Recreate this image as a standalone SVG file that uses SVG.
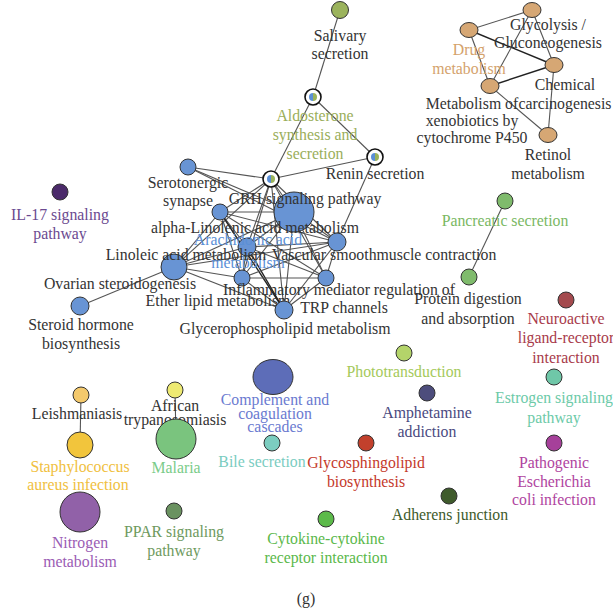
<svg xmlns="http://www.w3.org/2000/svg" width="613" height="614" viewBox="0 0 613 614">
<style>
text{font-family:"Liberation Serif","DejaVu Serif",serif;font-size:15.8px;text-anchor:middle;fill:#333}
.n{stroke:#333;stroke-width:1}
.e line{stroke:#555;stroke-width:1.1}
.e line.d{stroke:#222;stroke-width:1.4}
.blue{fill:#6894d4}
.tan{fill:#d6a774}
.ring{fill:#fff;stroke:#111;stroke-width:1.6}
</style>
<defs>
<g id="pie">
<circle r="8" class="ring"/>
<path d="M0,-4 A4,4 0 0 0 0,4 Z" fill="#5b8fd6"/>
<path d="M0,-4 A4,4 0 0 1 0,4 Z" fill="#9bb35c"/>
</g>
</defs>
<rect width="613" height="614" fill="#fff"/>
<g class="e" id="connectors">
<line x1="340" y1="10" x2="313" y2="97"/>
<line x1="313" y1="97" x2="271" y2="179"/>
<line x1="313" y1="97" x2="375" y2="157"/>
<line x1="375" y1="157" x2="271" y2="179"/>
<line x1="375" y1="157" x2="337" y2="242"/>
<line x1="271" y1="179" x2="188" y2="167"/>
<line x1="271" y1="179" x2="220" y2="212"/>
<line x1="271" y1="179" x2="294" y2="212"/>
<line x1="271" y1="179" x2="247" y2="247"/>
<line x1="271" y1="179" x2="242" y2="278"/>
<line x1="271" y1="179" x2="284" y2="310"/>
<line x1="271" y1="179" x2="326" y2="278"/>
<line x1="271" y1="179" x2="337" y2="242"/>
<line x1="271" y1="179" x2="174" y2="267"/>
<line x1="188" y1="167" x2="294" y2="212"/>
<line x1="188" y1="167" x2="337" y2="242"/>
<line x1="220" y1="212" x2="294" y2="212"/>
<line x1="220" y1="212" x2="247" y2="247"/>
<line x1="220" y1="212" x2="242" y2="278"/>
<line class="d" x1="220" y1="212" x2="284" y2="310"/>
<line x1="220" y1="212" x2="337" y2="242"/>
<line x1="220" y1="212" x2="326" y2="278"/>
<line x1="220" y1="212" x2="174" y2="267"/>
<line x1="294" y1="212" x2="247" y2="247"/>
<line x1="294" y1="212" x2="337" y2="242"/>
<line x1="294" y1="212" x2="326" y2="278"/>
<line x1="294" y1="212" x2="284" y2="310"/>
<line x1="294" y1="212" x2="242" y2="278"/>
<line x1="294" y1="212" x2="174" y2="267"/>
<line x1="247" y1="247" x2="337" y2="242"/>
<line x1="247" y1="247" x2="242" y2="278"/>
<line class="d" x1="247" y1="247" x2="284" y2="310"/>
<line x1="247" y1="247" x2="326" y2="278"/>
<line x1="247" y1="247" x2="174" y2="267"/>
<line x1="337" y1="242" x2="326" y2="278"/>
<line x1="337" y1="242" x2="284" y2="310"/>
<line x1="337" y1="242" x2="242" y2="278"/>
<line x1="242" y1="278" x2="326" y2="278"/>
<line x1="242" y1="278" x2="284" y2="310"/>
<line x1="242" y1="278" x2="174" y2="267"/>
<line x1="326" y1="278" x2="284" y2="310"/>
<line x1="174" y1="267" x2="284" y2="310"/>
<line x1="174" y1="267" x2="337" y2="242"/>
<line x1="174" y1="267" x2="80" y2="306"/>
<line x1="469" y1="30" x2="532" y2="10"/>
<line class="d" x1="469" y1="30" x2="554" y2="65"/>
<line x1="469" y1="30" x2="490" y2="86"/>
<line x1="532" y1="10" x2="490" y2="86"/>
<line x1="532" y1="10" x2="554" y2="65"/>
<line class="d" x1="490" y1="86" x2="554" y2="65"/>
<line x1="490" y1="86" x2="548" y2="135"/>
<line x1="554" y1="65" x2="548" y2="135"/>
<line x1="505" y1="201" x2="469" y2="277"/>
<line x1="81" y1="395" x2="80" y2="445"/>
<line x1="175" y1="391" x2="176" y2="439"/>
</g>

<g id="salivary"><circle class="n" cx="340" cy="10" r="8.5" fill="#9bb35c"/><text x="340" y="41">Salivary</text><text x="340" y="59">secretion</text></g>
<g id="aldosterone"><use href="#pie" x="313" y="97"/><text x="315" y="121" style="fill:#9aae5a">Aldosterone</text><text x="315" y="140" style="fill:#9aae5a">synthesis and</text><text x="315" y="159" style="fill:#9aae5a">secretion</text></g>
<g id="renin"><use href="#pie" x="375" y="157"/><text x="375" y="179">Renin secretion</text></g>
<g id="grh-ring"><use href="#pie" x="271" y="179"/></g>

<g id="serotonergic"><circle class="n blue" cx="188" cy="167" r="8"/><text x="188" y="188">Serotonergic</text><text x="188" y="206">synapse</text></g>
<g id="grh"><circle class="n blue" cx="294" cy="212" r="20"/><text x="305" y="204">GRH signaling pathway</text></g>
<g id="alpha"><circle class="n blue" cx="220" cy="212" r="8"/><text x="255" y="233">alpha-Linolenic acid metabolism</text></g>
<g id="arachidonic"><circle class="n blue" cx="247" cy="247" r="9"/><text x="248" y="245" style="fill:#5b8fd6">Arachidonic acid</text><text x="248" y="268" style="fill:#5b8fd6">metabolism</text></g>
<g id="vascular"><circle class="n blue" cx="337" cy="242" r="9"/><text x="384" y="260">Vascular smoothmuscle contraction</text></g>
<g id="linoleic"><circle class="n blue" cx="174" cy="267" r="13"/><text x="186" y="260">Linoleic acid metabolism</text></g>
<g id="ovarian"><text x="120" y="289">Ovarian steroidogenesis</text></g>
<g id="ether"><circle class="n blue" cx="242" cy="278" r="8"/><text x="218" y="306">Ether lipid metabolism</text></g>
<g id="inflammatory"><circle class="n blue" cx="326" cy="278" r="8"/><text x="339" y="295">Inflammatory mediator regulation of</text></g>
<g id="glycerophospholipid"><circle class="n blue" cx="284" cy="310" r="9"/><text x="344" y="313">TRP channels</text><text x="285" y="334">Glycerophospholipid metabolism</text></g>
<g id="steroid"><circle class="n blue" cx="80" cy="306" r="9"/><text x="81" y="330">Steroid hormone</text><text x="81" y="349">biosynthesis</text></g>

<g id="il17"><circle class="n" cx="60" cy="192" r="8" fill="#4b2a6a"/><text x="60" y="220" style="fill:#6b4a90">IL-17 signaling</text><text x="60" y="239" style="fill:#6b4a90">pathway</text></g>

<g id="glycolysis"><ellipse class="n tan" cx="532" cy="10" rx="9" ry="7.5"/><text x="548" y="30">Glycolysis /</text><text x="548" y="48">Gluconeogenesis</text></g>
<g id="drug"><ellipse class="n tan" cx="469" cy="30" rx="9" ry="7.5"/><text x="469" y="55" style="fill:#d4a26c">Drug</text><text x="469" y="74" style="fill:#d4a26c">metabolism</text></g>
<g id="chemical"><ellipse class="n tan" cx="554" cy="65" rx="9" ry="7.5"/><text x="565" y="90">Chemical</text><text x="565" y="109">carcinogenesis</text></g>
<g id="xenobiotics"><ellipse class="n tan" cx="490" cy="86" rx="9" ry="7.5"/><text x="472" y="109">Metabolism of</text><text x="472" y="126">xenobiotics by</text><text x="472" y="143">cytochrome P450</text></g>
<g id="retinol"><ellipse class="n tan" cx="548" cy="135" rx="9" ry="7.5"/><text x="548" y="160">Retinol</text><text x="548" y="179">metabolism</text></g>

<g id="pancreatic"><circle class="n" cx="505" cy="201" r="8" fill="#7fbb6c"/><text x="505" y="226" style="fill:#7ab863">Pancreatic secretion</text></g>
<g id="protein"><circle class="n" cx="469" cy="277" r="8" fill="#7fbb6c"/><text x="468" y="304">Protein digestion</text><text x="468" y="324">and absorption</text></g>
<g id="neuroactive"><circle class="n" cx="566" cy="300" r="8" fill="#a44a4e"/><text x="566" y="324" style="fill:#a83a4a">Neuroactive</text><text x="566" y="343" style="fill:#a83a4a">ligand-receptor</text><text x="566" y="363" style="fill:#a83a4a">interaction</text></g>
<g id="phototransduction"><circle class="n" cx="404" cy="353" r="8" fill="#b4d46a"/><text x="404" y="377" style="fill:#a4c95a">Phototransduction</text></g>
<g id="estrogen"><circle class="n" cx="554" cy="377" r="8" fill="#6fc7a8"/><text x="554" y="403" style="fill:#6ccaa8">Estrogen signaling</text><text x="554" y="423" style="fill:#6ccaa8">pathway</text></g>
<g id="pathogenic"><circle class="n" cx="554" cy="443" r="8" fill="#a6409a"/><text x="554" y="468" style="fill:#b044a0">Pathogenic</text><text x="554" y="487" style="fill:#b044a0">Escherichia</text><text x="554" y="505" style="fill:#b044a0">coli infection</text></g>
<g id="complement"><ellipse class="n" cx="273" cy="377" rx="20" ry="17.5" fill="#5d6db8"/><text x="275" y="405" style="fill:#6a7ad0">Complement and</text><text x="275" y="419" style="fill:#6a7ad0">coagulation</text><text x="275" y="432" style="fill:#6a7ad0">cascades</text></g>
<g id="amphetamine"><circle class="n" cx="427" cy="393" r="8" fill="#4d4d7c"/><text x="427" y="418" style="fill:#4a4a80">Amphetamine</text><text x="427" y="437" style="fill:#4a4a80">addiction</text></g>
<g id="bile"><circle class="n" cx="272" cy="443" r="8" fill="#7ccdc0"/><text x="262" y="467" style="fill:#7accbf">Bile secretion</text></g>
<g id="glycosphingolipid"><circle class="n" cx="366" cy="443" r="8" fill="#c2402c"/><text x="366" y="468" style="fill:#c4382a">Glycosphingolipid</text><text x="366" y="487" style="fill:#c4382a">biosynthesis</text></g>
<g id="adherens"><circle class="n" cx="449" cy="496" r="8" fill="#3f5b2c"/><text x="450" y="520" style="fill:#3e5a2a">Adherens junction</text></g>
<g id="cytokine"><circle class="n" cx="326" cy="519" r="8" fill="#5cba4a"/><text x="326" y="544" style="fill:#5ab84a">Cytokine-cytokine</text><text x="326" y="563" style="fill:#5ab84a">receptor interaction</text></g>
<g id="leishmaniasis"><circle class="n" cx="81" cy="395" r="8" fill="#f4c96c"/><text x="77" y="419">Leishmaniasis</text></g>
<g id="staphylococcus"><circle class="n" cx="80" cy="445" r="13" fill="#f2c53c"/><text x="80" y="472" style="fill:#f0c040">Staphylococcus</text><text x="78" y="490" style="fill:#f0c040">aureus infection</text></g>
<g id="african"><circle class="n" cx="175" cy="390" r="8" fill="#eeea72"/><text x="175" y="411">African</text><text x="175" y="425">trypanosomiasis</text></g>
<g id="malaria"><circle class="n" cx="176" cy="439" r="20" fill="#7ac47e"/><text x="176" y="473" style="fill:#7acc8a">Malaria</text></g>
<g id="nitrogen"><circle class="n" cx="80" cy="512" r="20" fill="#9161a8"/><text x="80" y="548" style="fill:#9a5cb4">Nitrogen</text><text x="80" y="567" style="fill:#9a5cb4">metabolism</text></g>
<g id="ppar"><circle class="n" cx="174" cy="511" r="8" fill="#6a9260"/><text x="174" y="537" style="fill:#6e9a5e">PPAR signaling</text><text x="174" y="556" style="fill:#6e9a5e">pathway</text></g>
<text x="306" y="604">(g)</text>
</svg>
